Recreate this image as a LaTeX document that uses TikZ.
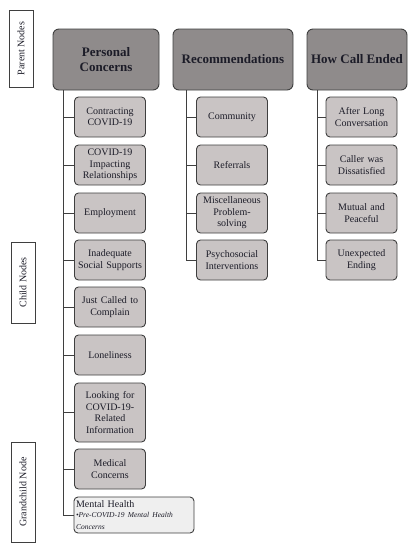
\documentclass[tikz,border=0pt]{standalone}
\usepackage{fontspec}
\setmainfont{Liberation Serif}
\usepackage{tikz}
\usetikzlibrary{positioning}
\definecolor{parentgray}{HTML}{8F8B8B}
\definecolor{childgray}{HTML}{C9C4C4}
\definecolor{grandgray}{HTML}{EFEFEF}
\definecolor{edgegray}{HTML}{3F3F3F}
\definecolor{inkdark}{HTML}{1C1C28}

\begin{document}
\begin{tikzpicture}[x=1pt, y=-1pt,
    parentbox/.style={draw=edgegray, line width=0.9pt, fill=parentgray, rounded corners=6pt,
      minimum width=106pt, minimum height=61pt, align=center, text=inkdark,
      font=\fontsize{13}{15}\selectfont\bfseries},
    childbox/.style={draw=edgegray, line width=0.9pt, fill=childgray, rounded corners=4pt,
      minimum width=71pt, minimum height=40pt, text width=69pt, inner xsep=1pt,
      align=center, text=inkdark, font=\fontsize{10}{11.5}\selectfont},
    grandbox/.style={draw=edgegray, line width=0.9pt, fill=grandgray, rounded corners=4pt,
      minimum width=120pt, minimum height=36pt, text width=116pt, inner xsep=2pt,
      inner ysep=2pt, align=left, text=inkdark},
    sidelabel/.style={draw=edgegray, line width=0.6pt, fill=white, rotate=90,
      minimum height=24pt, inner sep=0pt, text=inkdark, font=\fontsize{10}{11}\selectfont},
    branch/.style={draw=edgegray, line width=0.7pt}]
  \useasboundingbox (0,0) rectangle (416,550);

  % level labels on the left
  \node[sidelabel, minimum width=77pt] (lblparent) at (21,48.5) {Parent Nodes};
  \node[sidelabel, minimum width=81pt] (lblchild) at (23,282.5) {Child Nodes};
  \node[sidelabel, minimum width=100pt] (lblgrand) at (23,492) {Grandchild Node};

  % parent nodes
  \node[parentbox] (personal) at (106,59.5) {Personal\\Concerns};
  \node[parentbox, minimum width=120pt] (recomm) at (233,59.5) {Recommendations};
  \node[parentbox, minimum width=100pt] (callend) at (357,59.5) {How Call Ended};

  % personal concerns children
  \node[childbox] (contract) at (110,117) {Contracting\\COVID-19};
  \node[childbox] (impact) at (110,165) {COVID-19\\Impacting\\Relationships};
  \node[childbox] (employ) at (110,213) {Employment};
  \node[childbox] (supports) at (110,260) {Inadequate\\Social Supports};
  \node[childbox] (complain) at (110,307) {Just Called to\\Complain};
  \node[childbox] (lonely) at (110,355) {Loneliness};
  \node[childbox, minimum height=59pt] (lookinfo) at (110,412.5) {Looking for\\COVID-19-\\Related\\Information};
  \node[childbox] (medical) at (110,469) {Medical\\Concerns};
  \node[grandbox] (mental) at (134,515) {{\fontsize{10}{12}\selectfont Mental Health}\\[1pt]
    {\fontsize{7.5}{8.5}\selectfont\itshape\textbullet Pre-COVID-19 Mental Health\\Concerns}};

  % recommendations children
  \node[childbox] (community) at (232,117) {Community};
  \node[childbox] (referrals) at (232,165) {Referrals};
  \node[childbox] (misc) at (232,213) {Miscellaneous\\Problem-\\solving};
  \node[childbox] (psycho) at (232,260) {Psychosocial\\Interventions};

  % how call ended children
  \node[childbox] (longconv) at (361.5,117) {After Long\\Conversation};
  \node[childbox] (dissat) at (361.5,165) {Caller was\\Dissatisfied};
  \node[childbox] (mutual) at (361.5,213) {Mutual and\\Peaceful};
  \node[childbox] (unexpect) at (361.5,260) {Unexpected\\Ending};

  % connectors
  \coordinate (personalspine) at (63,90);
  \coordinate (recommspine) at (186,90);
  \coordinate (callendspine) at (317,90);
  \foreach \c in {contract, impact, employ, supports, complain, lonely, lookinfo, medical, mental}
    \draw[branch] (personalspine) |- (\c.west);
  \foreach \c in {community, referrals, misc, psycho}
    \draw[branch] (recommspine) |- (\c.west);
  \foreach \c in {longconv, dissat, mutual, unexpect}
    \draw[branch] (callendspine) |- (\c.west);
\end{tikzpicture}
\end{document}
